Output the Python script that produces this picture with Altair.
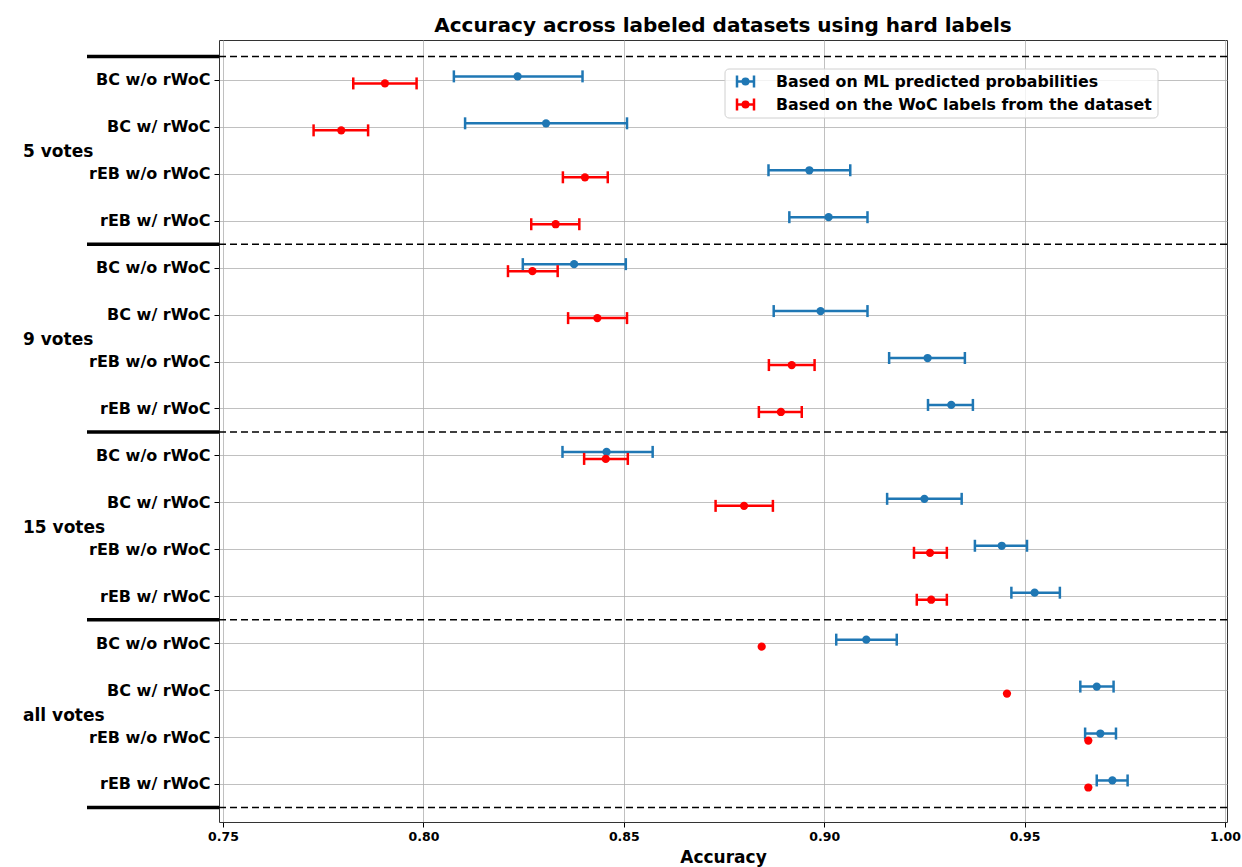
import altair as alt
import pandas as pd

# Vote-count groups and the four method variants inside each group
groups = ["5 votes", "9 votes", "15 votes", "all votes"]
methods = ["BC w/o rWoC", "BC w/ rWoC", "rEB w/o rWoC", "rEB w/ rWoC"]
series_names = ["Based on ML predicted probabilities", "Based on the WoC labels from the dataset"]
series_colors = ["#1f77b4", "#ff0000"]

# Accuracy based on ML predicted probabilities (mean and interval bounds)
ml_mean = [0.8235, 0.8306, 0.8963, 0.9011, 0.8376, 0.8991, 0.9258, 0.9317,
           0.8457, 0.9250, 0.9443, 0.9525, 0.9105, 0.9680, 0.9689, 0.9719]
ml_lo = [0.8076, 0.8104, 0.8861, 0.8913, 0.8248, 0.8874, 0.9162, 0.9259,
         0.8347, 0.9157, 0.9376, 0.9467, 0.9030, 0.9639, 0.9651, 0.9680]
ml_hi = [0.8397, 0.8508, 0.9065, 0.9108, 0.8505, 0.9108, 0.9351, 0.9371,
         0.8572, 0.9343, 0.9506, 0.9588, 0.9181, 0.9722, 0.9728, 0.9757]

# Accuracy based on the WoC labels from the dataset (no interval for "all votes")
woc_mean = [0.7904, 0.7795, 0.8403, 0.8330, 0.8272, 0.8434, 0.8919, 0.8892,
            0.8455, 0.8800, 0.9264, 0.9267, 0.8844, 0.9456, 0.9659, 0.9659]
woc_lo = [0.7825, 0.7726, 0.8348, 0.8269, 0.8211, 0.8361, 0.8862, 0.8837,
          0.8401, 0.8729, 0.9224, 0.9231, None, None, None, None]
woc_hi = [0.7983, 0.7862, 0.8460, 0.8389, 0.8335, 0.8508, 0.8976, 0.8944,
          0.8510, 0.8872, 0.9306, 0.9306, None, None, None, None]

x_ticks = [0.75, 0.80, 0.85, 0.90, 0.95, 1.00]
row_shift = [-0.075, 0.075]

records = []
for s, (mean, lo, hi) in enumerate([(ml_mean, ml_lo, ml_hi), (woc_mean, woc_lo, woc_hi)]):
    for i in range(len(mean)):
        records.append({
            "pos": i + row_shift[s],
            "series": series_names[s],
            "mean": mean[i],
            "lo": lo[i],
            "hi": hi[i],
        })
df = pd.DataFrame(records)
bars = df.dropna(subset=["lo"])

sep_df = pd.DataFrame({"pos": [-0.5, 3.5, 7.5, 11.5, 15.5]})
group_df = pd.DataFrame({"pos": [1.5, 5.5, 9.5, 13.5], "group": groups})

FONT = "DejaVu Sans"

label_expr = "[" + ",".join("'" + m + "'" for m in methods) + "][datum.value % 4]"

y_scale = alt.Scale(domain=[-0.85, 15.81], reverse=True, nice=False, zero=False)
x_scale = alt.Scale(domain=[0.749, 1.0005], nice=False, zero=False)

x_axis = alt.Axis(values=x_ticks, format=".2f", title="Accuracy", grid=True,
                  gridColor="#b0b0b0", gridWidth=0.8, domain=False,
                  tickSize=5, tickColor="black", labelFont=FONT, labelFontSize=12.5,
                  labelFontWeight="bold", labelColor="black", labelPadding=3,
                  titleFont=FONT, titleFontSize=17, titleFontWeight="bold",
                  titleColor="black", titlePadding=7)
y_axis = alt.Axis(values=list(range(16)), labelExpr=label_expr, title=None, grid=True,
                  gridColor="#b0b0b0", gridWidth=0.8, domain=False,
                  tickSize=5, tickColor="black", labelFont=FONT, labelFontSize=16,
                  labelFontWeight="bold", labelColor="black", labelPadding=4)


def xenc(field):
    return alt.X(f"{field}:Q", scale=x_scale, axis=x_axis)


def yenc():
    return alt.Y("pos:Q", scale=y_scale, axis=y_axis)


color_scale = alt.Scale(domain=series_names, range=series_colors)
color_enc = alt.Color("series:N", scale=color_scale, legend=None)

err_rule = alt.Chart(bars).mark_rule(strokeWidth=2.5).encode(
    x=xenc("lo"), x2="hi:Q", y=yenc(), color=color_enc,
)
cap_lo = alt.Chart(bars).mark_tick(orient="vertical", size=12, thickness=2.5, opacity=1).encode(
    x=xenc("lo"), y=yenc(), color=color_enc,
)
cap_hi = alt.Chart(bars).mark_tick(orient="vertical", size=12, thickness=2.5, opacity=1).encode(
    x=xenc("hi"), y=yenc(), color=color_enc,
)
points = alt.Chart(df).mark_circle(size=68, opacity=1).encode(
    x=xenc("mean"), y=yenc(), color=color_enc,
)

separators = alt.Chart(sep_df).mark_rule(
    strokeDash=[7, 4], strokeWidth=1.6, color="black"
).encode(y=yenc())

margin_rules = alt.Chart(sep_df).mark_rule(strokeWidth=3.5, color="black").encode(
    y=yenc(), x=alt.value(-132), x2=alt.value(0)
)

group_labels = alt.Chart(group_df).mark_text(
    align="left", baseline="middle", font=FONT, fontSize=17,
    fontWeight="bold", color="black", dy=2
).encode(y=yenc(), x=alt.value(-196), text="group:N")

# Legend box with an error-bar glyph per series
one = pd.DataFrame({"k": [0]})
legend_layers = [
    alt.Chart(one).mark_rect(
        fill="white", fillOpacity=0.8, stroke="#d0d0d0", strokeWidth=1, cornerRadius=4
    ).encode(x=alt.value(506), x2=alt.value(939), y=alt.value(29), y2=alt.value(78))
]
for k, (name, col) in enumerate(zip(series_names, series_colors)):
    cy = 41.5 + 23 * k
    legend_layers += [
        alt.Chart(one).mark_rule(color=col, strokeWidth=2.5).encode(
            x=alt.value(518), x2=alt.value(535), y=alt.value(cy)),
        alt.Chart(one).mark_rule(color=col, strokeWidth=2.5).encode(
            x=alt.value(518), y=alt.value(cy - 6), y2=alt.value(cy + 6)),
        alt.Chart(one).mark_rule(color=col, strokeWidth=2.5).encode(
            x=alt.value(535), y=alt.value(cy - 6), y2=alt.value(cy + 6)),
        alt.Chart(one).mark_circle(color=col, size=64, opacity=1).encode(
            x=alt.value(526.5), y=alt.value(cy)),
        alt.Chart(one).mark_text(
            text=name, align="left", baseline="middle", font=FONT, fontSize=15.8,
            fontWeight="bold", color="black"
        ).encode(x=alt.value(557), y=alt.value(cy)),
    ]

chart = alt.layer(
    separators, err_rule, cap_lo, cap_hi, points, margin_rules, group_labels,
    *legend_layers
).properties(
    width=1008,
    height=782,
    padding={"left": 219, "top": 40, "right": 15, "bottom": 45},
    autosize=alt.AutoSizeParams(type="none"),
    title=alt.TitleParams(
        "Accuracy across labeled datasets using hard labels",
        font=FONT, fontSize=20, fontWeight="bold", color="black",
        anchor="middle", offset=4,
    ),
).configure_view(stroke="#333333", strokeWidth=1)

chart.save("out.html", embed_options={"renderer": "svg", "actions": False})
